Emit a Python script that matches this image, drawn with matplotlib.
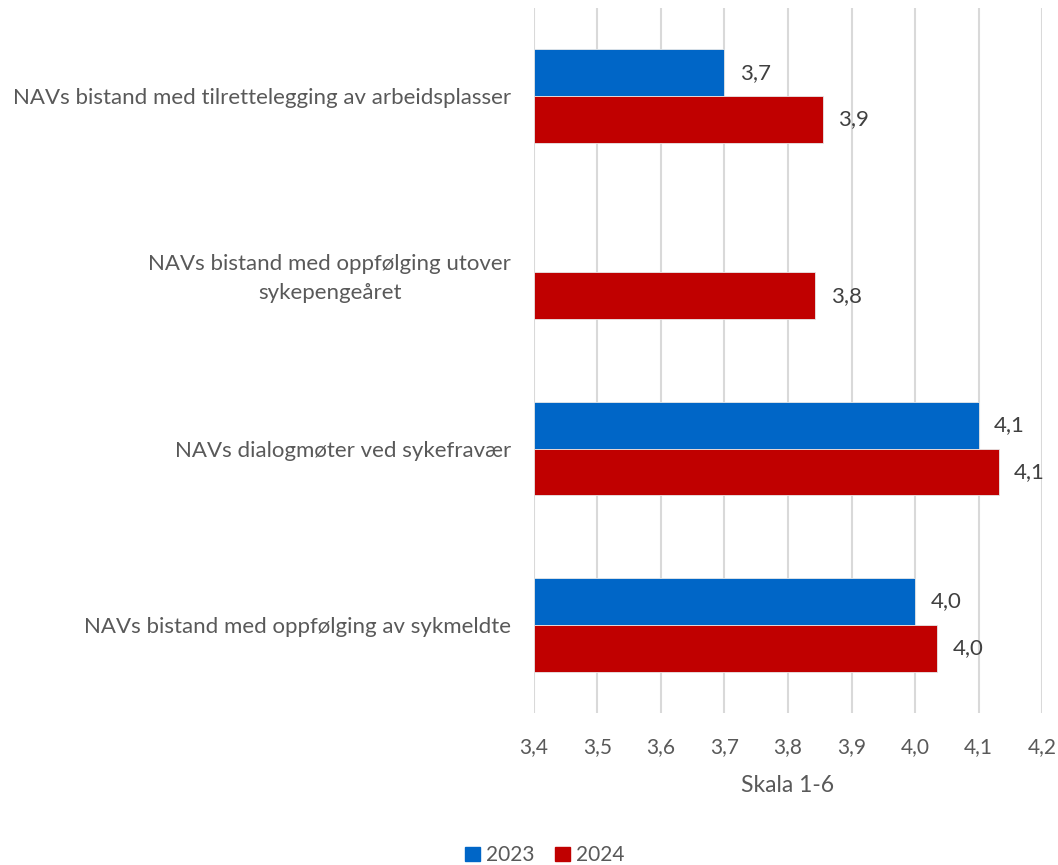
import numpy as np
import matplotlib
matplotlib.use("Agg")
import matplotlib.pyplot as plt
from matplotlib.patches import Patch

categories = [
    "NAVs bistand med tilrettelegging av arbeidsplasser",
    "NAVs bistand med oppfølging utover\nsykepengeåret",
    "NAVs dialogmøter ved sykefravær",
    "NAVs bistand med oppfølging av sykmeldte",
]
vals_2023 = [3.70, np.nan, 4.10, 4.00]
vals_2024 = [3.855, 3.843, 4.132, 4.035]
series_names = ["2023", "2024"]
xticks = [3.4, 3.5, 3.6, 3.7, 3.8, 3.9, 4.0, 4.1, 4.2]
xlabel = "Skala 1-6"

colors = ["#0066C7", "#C00000"]
text_color = "#595959"
plt.rcParams['font.family'] = ['Lato', 'DejaVu Sans']

fig = plt.figure(figsize=(10.58, 8.65), dpi=100)
ax = fig.add_axes([0.5047, 0.1757, 0.4802, 0.8151])

n = len(categories)
pos = np.arange(n)
h = 0.265
for vals, col, off in [(vals_2023, colors[0], -h / 2), (vals_2024, colors[1], h / 2)]:
    for i, v in enumerate(vals):
        if np.isnan(v):
            continue
        ax.barh(pos[i] + off, v - 3.4, left=3.4, height=h, color=col,
                edgecolor="#e8e8e8", linewidth=0.6, zorder=3)
        ax.annotate(f"{v:.1f}".replace(".", ","), (v, pos[i] + off),
                    xytext=(11, 0), textcoords="offset points",
                    va="center", ha="left", fontsize=16, color="#404040",
                    annotation_clip=False)

ax.set_xlim(3.4, 4.2)
ax.set_ylim(n - 0.5, -0.5)
ax.set_xticks(xticks)
ax.set_xticklabels([f"{t:.1f}".replace(".", ",") for t in xticks],
                   fontsize=15, color=text_color)
ax.set_yticks(pos)
ax.set_yticklabels(categories, fontsize=16, color=text_color, ha="right",
                   multialignment="center", linespacing=1.55)
ax.tick_params(axis="y", length=0, pad=16.5)
ax.tick_params(axis="x", length=0, pad=17)
ax.grid(axis="x", color="#d9d9d9", linewidth=1.5, zorder=0)
for s in ax.spines.values():
    s.set_visible(False)
ax.set_xlabel(xlabel, fontsize=16.5, color=text_color, labelpad=13)

handles = [Patch(color=c, label=l) for c, l in zip(colors, series_names)]
fig.legend(handles=handles, loc="lower center", bbox_to_anchor=(0.515, -0.022),
           ncol=2, frameon=False, fontsize=15, handlelength=0.7, handleheight=0.7,
           handletextpad=0.3, columnspacing=1.0, labelcolor=text_color)

fig.savefig("out.png", dpi=100)
